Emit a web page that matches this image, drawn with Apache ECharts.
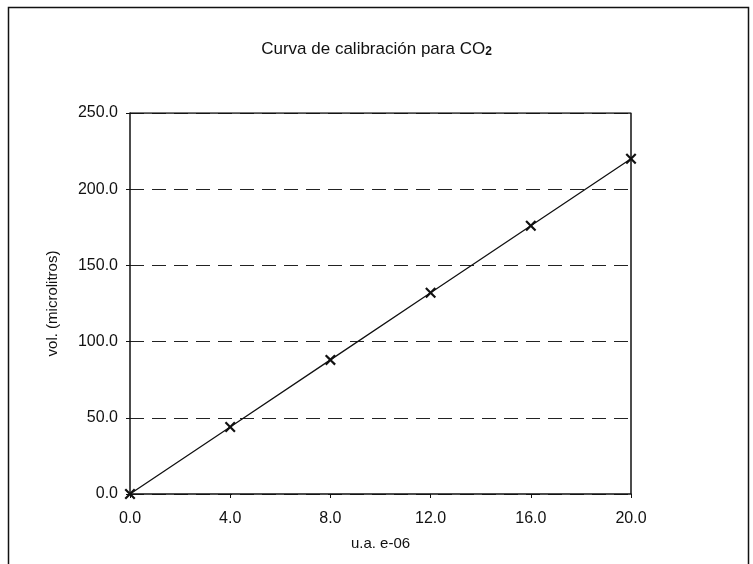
<!DOCTYPE html>
<html>
<head>
<meta charset="utf-8">
<script src="https://cdn.jsdelivr.net/npm/echarts@6/dist/echarts.min.js"></script>
<style>
  html, body { margin: 0; padding: 0; background: #fff; }
  #chart { width: 753px; height: 564px; }
</style>
</head>
<body>
<div id="chart"></div>
<script>
// Calibration measurements: instrument response (u.a. e-06) vs. CO2 volume (µL)
const xValues = [0, 4, 8, 12, 16, 20];
const yValues = [0, 44, 88, 132, 176, 220];

const titleText = 'Curva de calibración para CO';
const xAxisName = 'u.a. e-06';
const yAxisName = 'vol. (microlitros)';

const FONT = 'Liberation Sans, Arial, sans-serif';
const points = xValues.map((x, i) => [x, yValues[i]]);

// Filled "x" glyph used as the point marker
const crossPath = 'path://M0,1.4L1.4,0L5,3.6L8.6,0L10,1.4L6.4,5L10,8.6L8.6,10L5,6.4L1.4,10L0,8.6L3.6,5Z';

const chart = echarts.init(document.getElementById('chart'), null, { renderer: 'canvas' });

chart.setOption({
  backgroundColor: '#ffffff',
  animation: false,
  title: {
    text: '{m|' + titleText + '}{s|2}',
    left: 'center',
    top: 35,
    textStyle: {
      rich: {
        m: { fontFamily: FONT, fontSize: 17, color: '#111', fontWeight: 'normal' },
        s: { fontFamily: FONT, fontSize: 12, color: '#111', verticalAlign: 'bottom', padding: [6, 0, 0, 0] }
      }
    }
  },
  graphic: [{
    type: 'rect',
    shape: { x: 8.5, y: 7.5, width: 740, height: 580 },
    style: { fill: 'none', stroke: '#111', lineWidth: 1.5 },
    silent: true
  }],
  grid: { left: 130, right: 122, top: 113, bottom: 70 },
  xAxis: {
    type: 'value',
    min: 0, max: 20, interval: 4,
    name: xAxisName,
    nameLocation: 'middle',
    nameGap: 42,
    nameTextStyle: { fontFamily: FONT, fontSize: 15, color: '#111' },
    axisLine: { show: true, onZero: false, lineStyle: { color: '#111', width: 1.5 } },
    axisTick: { show: true, length: 4, lineStyle: { color: '#111' } },
    axisLabel: { fontFamily: FONT, fontSize: 16, color: '#111', margin: 17,
      formatter: v => v.toFixed(1) },
    splitLine: { show: false }
  },
  yAxis: {
    type: 'value',
    min: 0, max: 250, interval: 50,
    name: yAxisName,
    nameLocation: 'middle',
    nameGap: 70,
    nameTextStyle: { fontFamily: FONT, fontSize: 15, color: '#111' },
    axisLine: { show: true, lineStyle: { color: '#111', width: 1.5 } },
    axisTick: { show: true, length: 4, lineStyle: { color: '#111' } },
    axisLabel: { fontFamily: FONT, fontSize: 16, color: '#111', margin: 12,
      formatter: v => v.toFixed(1) },
    splitLine: { show: true, lineStyle: { color: '#222', width: 1.2, type: [14, 8] } }
  },
  series: [
    {
      // plot-area frame on top and right
      type: 'line',
      data: [[0, 250], [20, 250], [20, 0]],
      symbol: 'none',
      lineStyle: { color: '#111', width: 1.5 },
      silent: true,
      z: 1
    },
    {
      type: 'line',
      data: points,
      symbol: crossPath,
      symbolSize: 11,
      itemStyle: { color: '#111' },
      lineStyle: { color: '#111', width: 1.3 },
      z: 3
    }
  ]
});
</script>
</body>
</html>
